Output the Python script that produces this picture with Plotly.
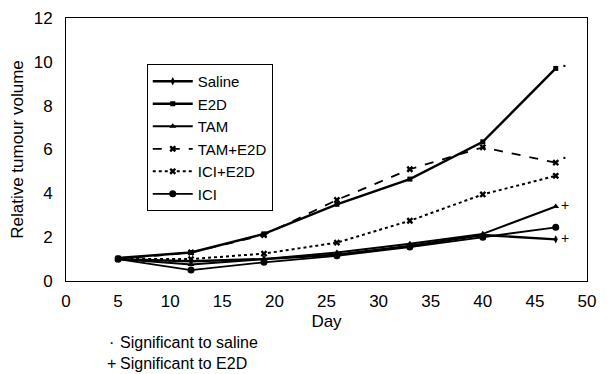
import plotly.graph_objects as go

days = [5, 12, 19, 26, 33, 40, 47]
saline = [1.0, 0.9, 1.0, 1.2, 1.6, 2.1, 1.9]
e2d = [1.05, 1.3, 2.15, 3.5, 4.65, 6.35, 9.7]
tam = [1.0, 0.75, 1.0, 1.3, 1.7, 2.15, 3.4]
tam_e2d = [1.0, 1.3, 2.1, 3.7, 5.1, 6.1, 5.4]
ici_e2d = [1.0, 1.0, 1.25, 1.75, 2.75, 3.95, 4.8]
ici = [1.0, 0.5, 0.85, 1.15, 1.55, 2.0, 2.45]

# significance markers at the end of series
sig_day = 47.5
sig_values = [9.8, 5.6, 3.4, 1.9]
sig_labels = ["·", "·", "+", "+"]

x_ticks = list(range(0, 51, 5))
y_ticks = list(range(0, 13, 2))

series = [
    ("Saline", saline, "solid", "diamond-tall", 2.4, 6),
    ("E2D", e2d, "solid", "square", 2.4, 5),
    ("TAM", tam, "solid", "triangle-up", 2.0, 6),
    ("TAM+E2D", tam_e2d, "dash", "x", 1.8, 6),
    ("ICI+E2D", ici_e2d, "dot", "x", 2.0, 6),
    ("ICI", ici, "solid", "circle", 1.8, 7),
]

FONT = "Liberation Sans, Arial, sans-serif"

fig = go.Figure()
for name, vals, dash, sym, lw, ms in series:
    fig.add_trace(go.Scatter(
        x=days, y=vals, name=name, mode="lines+markers",
        line=dict(color="black", width=lw, dash=dash),
        marker=dict(symbol=sym, size=ms, color="black"),
    ))

fig.add_trace(go.Scatter(
    x=[sig_day] * len(sig_values), y=sig_values, mode="text",
    text=sig_labels,
    textfont=dict(size=[20, 20, 14, 14], color="#000000", family=FONT),
    textposition="middle right",
    showlegend=False, hoverinfo="skip",
))

# page body has an 8px margin: figure is sized to fit the 611x374 window
fig.update_layout(
    width=603, height=366,
    margin=dict(l=58, r=24, t=10, b=93),
    paper_bgcolor="white", plot_bgcolor="white",
    font=dict(family=FONT, size=17, color="black"),
    showlegend=True,
    legend=dict(
        x=0.155, y=0.825, xanchor="left", yanchor="top",
        bordercolor="black", borderwidth=1, bgcolor="white",
        font=dict(size=15), tracegroupgap=0, itemwidth=40,
    ),
    xaxis=dict(
        range=[0, 50], tickvals=x_ticks, ticks="", showgrid=False, zeroline=False,
        showline=True, linecolor="black", linewidth=1, mirror=True,
        tickfont=dict(size=17), automargin=False, ticklabelstandoff=5,
        ticklabeloverflow="allow",
        title=dict(text="Day", font=dict(size=17), standoff=4),
    ),
    yaxis=dict(
        range=[0, 12], tickvals=y_ticks, ticks="", showgrid=False, zeroline=False,
        showline=True, linecolor="black", linewidth=1, mirror=True,
        tickfont=dict(size=17), automargin=False, ticklabelstandoff=9,
        ticklabeloverflow="allow",
        title=dict(text="Relative tumour volume", font=dict(size=17), standoff=5),
    ),
    annotations=[
        dict(text="·<br>+", xref="paper", yref="paper", align="center",
             x=0.088, y=-0.272, xanchor="center", yanchor="middle", showarrow=False,
             font=dict(size=16), borderpad=0),
        dict(text="Significant to saline<br>Significant to E2D", xref="paper", yref="paper",
             align="left",
             x=0.1017, y=-0.272, xanchor="left", yanchor="middle", showarrow=False,
             font=dict(size=16), borderpad=0),
    ],
)

fig.write_html("out.html")
